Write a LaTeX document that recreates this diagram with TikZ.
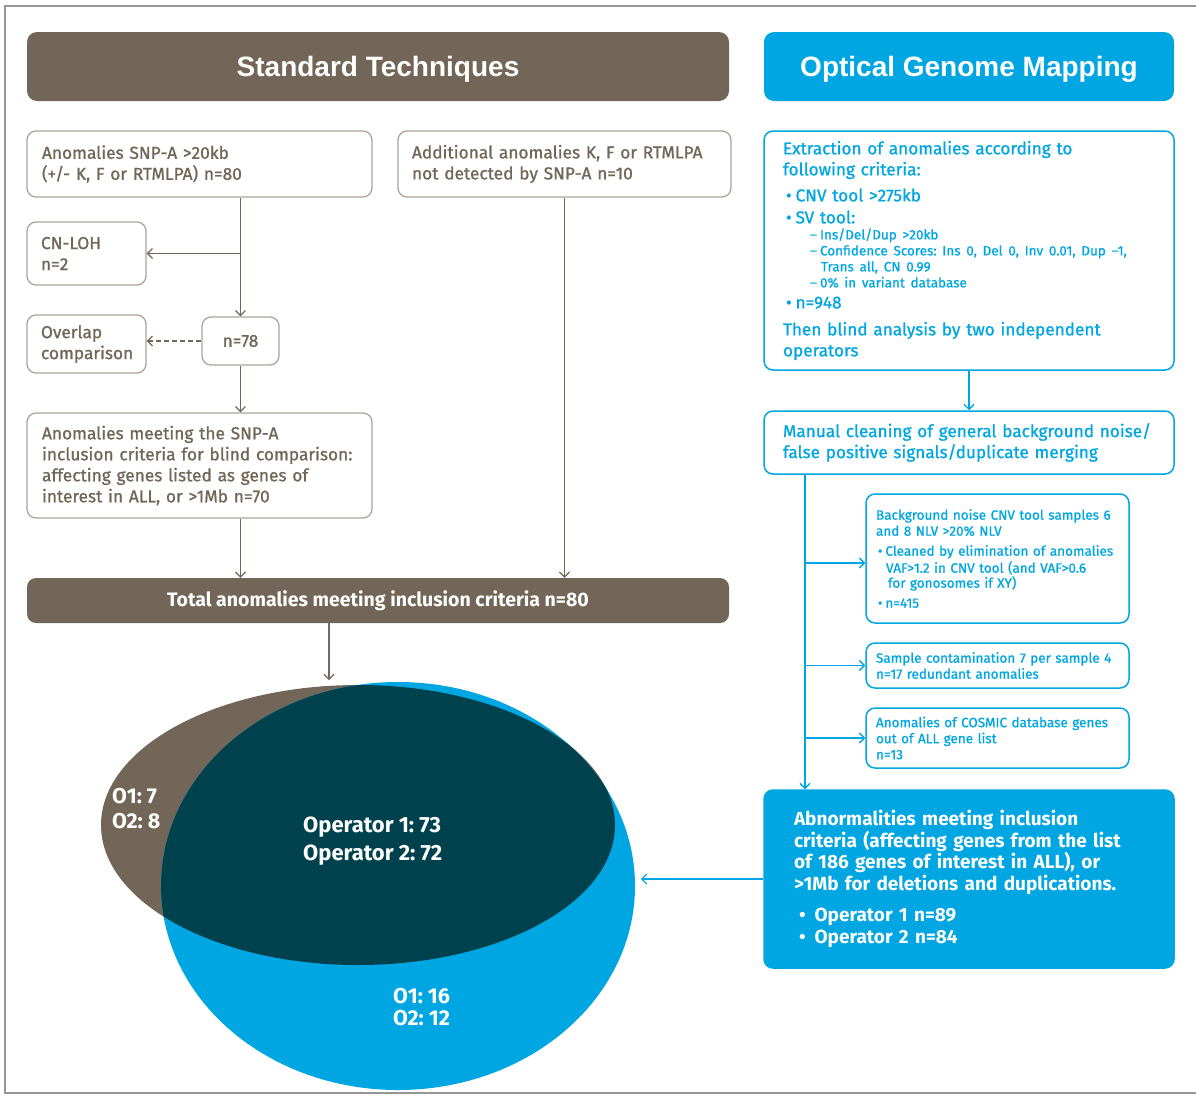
\documentclass[tikz,border=0pt]{standalone}
\usepackage{fontspec}
\setmainfont{Fira Sans}
\newfontfamily\medfont{Fira Sans}[FakeBold=1.0]
\newfontfamily\titlefont{Liberation Sans}
\usetikzlibrary{arrows.meta}

\definecolor{stdbrown}{RGB}{114,102,88}
\definecolor{ogmblue}{RGB}{0,166,226}
\definecolor{venndark}{RGB}{0,65,78}
\definecolor{framegray}{RGB}{150,150,150}

\tikzset{
  hdrbox/.style={rounded corners=10pt, text=white, minimum height=69pt, text depth=0pt,
    font=\titlefont\bfseries\fontsize{28}{32}\selectfont},
  stdbox/.style={draw=stdbrown!60, line width=1.3pt, rounded corners=9pt, text=stdbrown,
    align=left, inner xsep=15pt, inner ysep=0pt, font=\medfont\fontsize{17.3}{21}\selectfont},
  ogmbox/.style={draw=ogmblue, line width=1.5pt, rounded corners=9pt, text=ogmblue,
    align=left, inner xsep=19pt, inner ysep=0pt, font=\medfont\fontsize{17.2}{21}\selectfont},
  ogmsmall/.style={ogmbox, inner xsep=10pt, font=\medfont\fontsize{13.5}{16}\selectfont},
  stdarrow/.style={draw=stdbrown, line width=1.2pt, -{Straight Barb[length=5pt,width=10pt]}},
  ogmarrow/.style={draw=ogmblue, line width=1.4pt, -{Straight Barb[length=5pt,width=10pt]}},
  vennlbl/.style={text=white, align=left, inner sep=0pt, font=\bfseries\fontsize{21.5}{25}\selectfont}
}

\begin{document}
\frenchspacing
\begin{tikzpicture}[x=1pt,y=-1pt]
  \useasboundingbox (0,0) rectangle (1196,1095);
  \draw [framegray, line width=1.5pt] (1196,6) -- (5,6) -- (5,1093) -- (1196,1093);

  % headers
  \node [hdrbox, fill=stdbrown, minimum width=702pt] (hdrstd) at (378,66.5) {Standard Techniques};
  \node [hdrbox, fill=ogmblue, minimum width=410pt] (hdrogm) at (969,66.5) {Optical Genome Mapping};

  % standard techniques
  \node [stdbox, text width=315pt, minimum height=66pt] (snpa) at (199.5,164)
    {Anomalies SNP-A >20kb\\(+/- K, F or RTMLPA) n=80};
  \node [stdbox, text width=305pt, minimum height=66pt, inner xsep=14pt] (addk) at (564.5,164)
    {Additional anomalies K, F or RTMLPA\\not detected by SNP-A n=10};
  \node [stdbox, text width=91pt, minimum height=63pt, inner xsep=14pt] (cnloh) at (86.5,253.5)
    {CN-LOH\\n=2};
  \node [stdbox, text width=91pt, minimum height=58pt, inner xsep=14pt] (overlap) at (86.5,344)
    {Overlap\\comparison};
  \node [stdbox, align=center, inner xsep=0pt, minimum width=77pt, minimum height=48pt] (n78) at (240.5,341)
    {n=78};
  \node [stdbox, text width=315pt, minimum height=105pt] (blindsnpa) at (199.5,465.5)
    {Anomalies meeting the SNP-A\\inclusion criteria for blind comparison:\\affecting genes listed as genes of\\interest in ALL, or >1Mb n=70};
  \node [fill=stdbrown, rounded corners=9pt, text=white, minimum width=702pt, minimum height=45pt,
    font=\bfseries\fontsize{19.5}{21}\selectfont] (total) at (378,600.5)
    {Total anomalies meeting inclusion criteria n=80};

  \draw [stdarrow] (snpa.south -| n78.north) -- (n78.north);
  \draw [stdarrow] (cnloh.east -| n78.north) -- (cnloh.east);
  \draw [stdarrow, dash pattern=on 5pt off 3pt] (n78.west) -- (n78.west -| overlap.east);
  \draw [stdarrow] (n78.south) -- (n78.south |- blindsnpa.north);
  \draw [stdarrow] (blindsnpa.south -| n78.south) -- (total.north -| n78.south);
  \draw [stdarrow] (addk.south) -- (total.north -| addk.south);

  % optical genome mapping
  \node [ogmbox, text width=372pt, minimum height=239pt] (extract) at (969,250.5) {%
    Extraction of anomalies according to\\
    following criteria:\\[5pt]
    \hspace*{3pt}•\hspace{4pt}CNV tool >275kb\\[1pt]
    \hspace*{3pt}•\hspace{4pt}SV tool:\par
    {\fontsize{13.5}{16}\selectfont
    \hspace*{27pt}–\hspace{3pt}Ins/Del/Dup >20kb\\
    \hspace*{27pt}–\hspace{3pt}Confidence Scores: Ins 0, Del 0, Inv 0.01, Dup –1,\\
    \hspace*{38pt}Trans all, CN 0.99\\
    \hspace*{27pt}–\hspace{3pt}0\% in variant database\par}
    \hspace*{3pt}•\hspace{4pt}n=948\\[6pt]
    Then blind analysis by two independent\\
    operators};
  \node [ogmbox, text width=372pt, minimum height=63pt] (manual) at (969,442.5)
    {Manual cleaning of general background noise/\\false positive signals/duplicate merging};
  \node [ogmsmall, text width=243pt, minimum height=129pt] (bgnoise) at (997.5,558.5) {%
    Background noise CNV tool samples 6\\
    and 8 NLV >20\% NLV\\[4pt]
    \hspace*{2pt}•\hspace{3pt}Cleaned by elimination of anomalies\\[1pt]
    \hspace*{10pt}VAF>1.2 in CNV tool (and VAF>0.6\\[-1pt]
    \hspace*{12pt}for gonosomes if XY)\\[4pt]
    \hspace*{2pt}•\hspace{3pt}n=415};
  \node [ogmsmall, text width=243pt, minimum height=45pt] (contam) at (997.5,665.5)
    {Sample contamination 7 per sample 4\\n=17 redundant anomalies};
  \node [ogmsmall, text width=243pt, minimum height=60pt] (cosmic) at (997.5,738)
    {Anomalies of COSMIC database genes\\out of ALL gene list\\n=13};
  \node [ogmbox, fill=ogmblue, text=white, text width=350pt, inner xsep=30pt, minimum height=178pt,
    font=\bfseries\fontsize{19}{21.7}\selectfont] (incl) at (969,879) {%
    Abnormalities meeting inclusion\\
    criteria (affecting genes from the list\\
    of 186 genes of interest in ALL), or\\
    >1Mb for deletions and duplications.\\[9pt]
    \hspace*{5pt}•\hspace{9pt}Operator 1 n=89\\[1pt]
    \hspace*{5pt}•\hspace{9pt}Operator 2 n=84};

  \coordinate (trunk) at (805,0);
  \draw [ogmarrow] (extract.south) -- (manual.north);
  \draw [ogmarrow] (manual.south -| trunk) -- (incl.north -| trunk);
  \draw [ogmarrow] (trunk |- 0,563) -- (bgnoise.west |- 0,563);
  \draw [ogmarrow] (contam.west -| trunk) -- (contam.west);
  \draw [ogmarrow] (cosmic.west -| trunk) -- (cosmic.west);

  % venn diagram
  \fill [stdbrown] (358,825) ellipse [x radius=257pt, y radius=140pt];
  \fill [ogmblue] (398,886) ellipse [x radius=237pt, y radius=204pt];
  \begin{scope}
    \clip (358,825) ellipse [x radius=257pt, y radius=140pt];
    \fill [venndark] (398,886) ellipse [x radius=237pt, y radius=204pt];
  \end{scope}
  \node [vennlbl, anchor=west] (onlystd) at (112,809) {O1: 7\\O2: 8};
  \node [vennlbl, anchor=west, font=\bfseries\fontsize{22}{28}\selectfont] (both) at (303,841)
    {Operator 1: 73\\Operator 2: 72};
  \node [vennlbl, anchor=west, font=\bfseries\fontsize{21.5}{22}\selectfont] (onlyogm) at (393,1007)
    {O1: 16\\O2: 12};

  \coordinate (venntop) at (329,680);
  \coordinate (vennright) at (641,879);
  \draw [stdarrow] (total.south -| venntop) -- (venntop);
  \draw [ogmarrow, line width=1.2pt] (incl.west) -- (vennright);
\end{tikzpicture}
\end{document}
